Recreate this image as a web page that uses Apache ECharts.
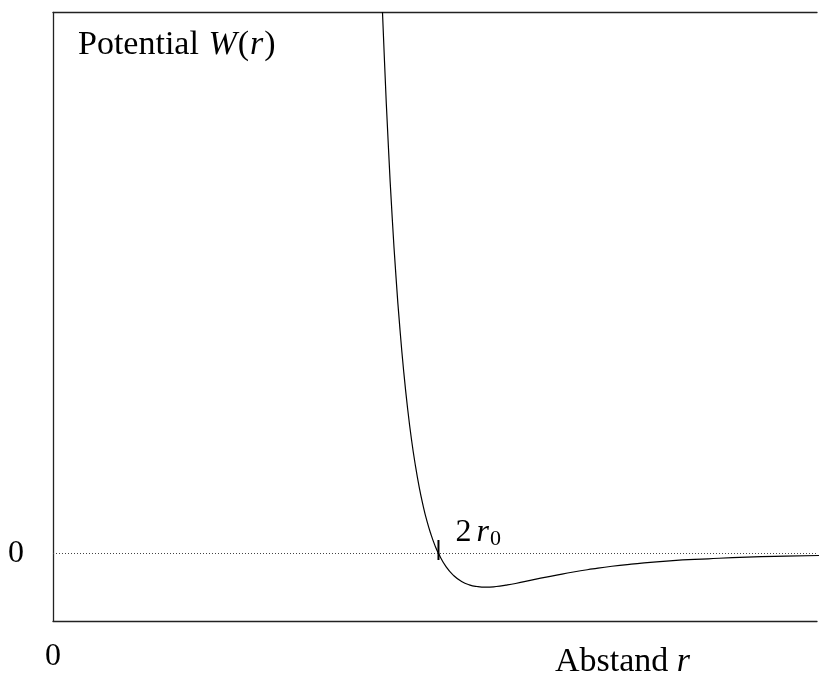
<!DOCTYPE html>
<html>
<head>
<meta charset="utf-8">
<script src="https://cdn.jsdelivr.net/npm/echarts@6/dist/echarts.min.js"></script>
<style>
  html, body { margin: 0; padding: 0; background: #fff; overflow: hidden; }
  #chart { width: 820px; height: 673px; }
</style>
</head>
<body>
<div id="chart"></div>
<script>
// Distance r in units of r0 (the curve crosses zero at 2 r0)
const distance = [
  1.68, 1.70, 1.72, 1.74, 1.76, 1.78, 1.80, 1.82, 1.84, 1.86, 1.88, 1.90,
  1.92, 1.94, 1.96, 1.98, 2.00, 2.04, 2.08, 2.12, 2.16, 2.20, 2.245, 2.30,
  2.35, 2.40, 2.50, 2.60, 2.70, 2.80, 2.90, 3.00, 3.20, 3.40, 3.60, 3.80, 4.00
];
// Potential W(r) in units of the well depth
const potential = [
  21.03, 17.51, 14.55, 12.05, 9.93, 8.15, 6.64, 5.36, 4.28, 3.37, 2.61, 1.96,
  1.42, 0.96, 0.58, 0.26, 0.00, -0.40, -0.66, -0.83, -0.93, -0.98, -1.00, -0.98,
  -0.94, -0.89, -0.77, -0.66, -0.55, -0.46, -0.38, -0.32, -0.22, -0.16, -0.11, -0.08, -0.06
];
// Zero crossing marker (2 r0)
const crossing = { r: 2, w: 0.1 };
const xTickLabels = ['0'];
const yTickLabels = ['0'];

const FONT = '"Liberation Serif", "Times New Roman", serif';
const chart = echarts.init(document.getElementById('chart'), null, { renderer: 'canvas' });

const curve = distance.map((r, i) => [r, potential[i]]);
const frameLine = { show: true, onZero: false, lineStyle: { color: '#222', width: 1.3 } };

chart.setOption({
  animation: false,
  backgroundColor: '#ffffff',
  grid: { left: 53, right: 0, top: 12.5, bottom: 47 },
  xAxis: [
    {
      type: 'value', min: 0, max: 3.964, interval: 1, position: 'bottom',
      axisLine: frameLine, axisTick: { show: false }, splitLine: { show: false },
      axisLabel: {
        margin: 20, color: '#000', fontFamily: FONT, fontSize: 32,
        formatter: v => (v === 0 ? xTickLabels[0] : '')
      }
    },
    {
      // top edge of the frame
      type: 'value', min: 0, max: 3.964, interval: 1, position: 'top',
      axisLine: frameLine, axisTick: { show: false }, splitLine: { show: false },
      axisLabel: { show: false }
    }
  ],
  yAxis: {
    type: 'value', min: -2, max: 16, interval: 2, position: 'left',
    axisLine: frameLine, axisTick: { show: false }, splitLine: { show: false },
    axisLabel: {
      margin: 29, color: '#000', fontFamily: FONT, fontSize: 32,
      formatter: v => (v === 0 ? yTickLabels[0] : '')
    }
  },
  series: [{
    type: 'line',
    data: curve,
    smooth: true,
    showSymbol: false,
    clip: true,
    lineStyle: { color: '#000', width: 1.2 },
    markLine: {
      silent: true,
      symbol: 'none',
      label: { show: false },
      lineStyle: { color: '#444', width: 1, type: [1, 2] },
      data: [{ yAxis: 0 }]
    },
    markPoint: {
      silent: true,
      symbol: 'rect',
      symbolSize: [2, 20],
      itemStyle: { color: '#000' },
      label: {
        show: true,
        position: [18, -24],
        align: 'left',
        verticalAlign: 'top',
        formatter: '{n|2}{s| }{i|r}{sub|0}',
        rich: {
          n: { fontFamily: FONT, fontSize: 32, color: '#000' },
          s: { fontFamily: FONT, fontSize: 20, color: '#000' },
          i: { fontFamily: FONT, fontSize: 32, fontStyle: 'italic', color: '#000' },
          sub: { fontFamily: FONT, fontSize: 22, color: '#000', padding: [12, 0, 0, 1] }
        }
      },
      data: [{ coord: [crossing.r, crossing.w] }]
    }
  }],
  graphic: [
    {
      type: 'text', left: 78, top: 28, silent: true,
      style: {
        text: '{a|Potential }{b|W}{a|(}{b|r}{a|)}',
        rich: {
          a: { fontFamily: FONT, fontSize: 34, fill: '#000' },
          b: { fontFamily: FONT, fontSize: 34, fontStyle: 'italic', fill: '#000', padding: [0, 1, 0, 1] }
        }
      }
    },
    {
      type: 'text', left: 555, top: 645, silent: true,
      style: {
        text: '{a|Abstand }{b|r}',
        rich: {
          a: { fontFamily: FONT, fontSize: 34, fill: '#000' },
          b: { fontFamily: FONT, fontSize: 34, fontStyle: 'italic', fill: '#000' }
        }
      }
    }
  ]
});
</script>
</body>
</html>
